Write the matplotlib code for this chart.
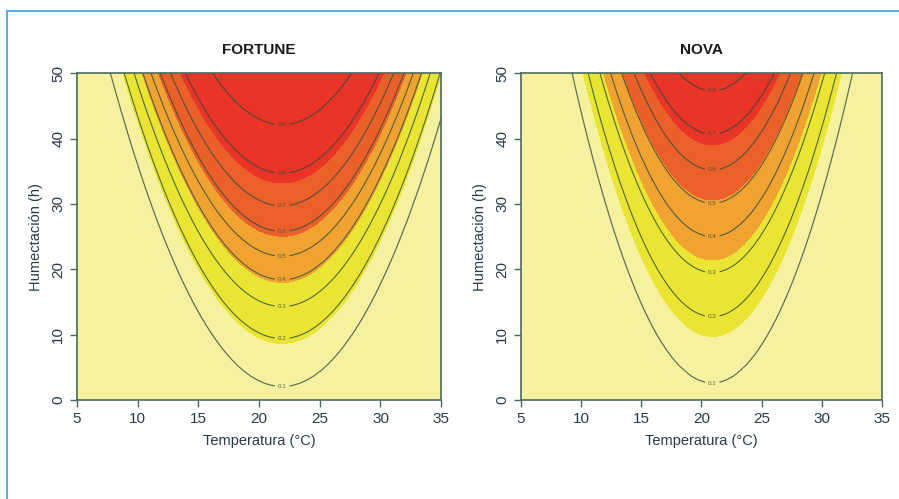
import numpy as np
import matplotlib.pyplot as plt
from matplotlib.patches import Rectangle

plt.rcParams['font.family'] = ['Liberation Sans', 'DejaVu Sans']

# Contour levels and the humidity (h) at the bottom of each curve
levels = [0.1, 0.2, 0.3, 0.4, 0.5, 0.6, 0.7, 0.8, 0.9]
fortune_vertex = [2.1, 9.4, 14.3, 18.4, 22.0, 25.8, 29.7, 34.7, 42.1]
nova_vertex = [2.65, 12.75, 19.5, 25.0, 30.1, 35.2, 40.7, 47.3, 55.0]

# optimum temperature and curvature of the parabolas
fortune_topt, fortune_curv = 21.9, 0.24
nova_topt, nova_curv = 20.9, 0.35

# boundaries of the filled colour bands
fortune_fill = [0.19, 0.39, 0.58, 0.77]
nova_fill = [0.17, 0.335, 0.51, 0.67]

band_colors = ['#F6F19E', '#E9E532', '#F1A332', '#EB6029', '#E93427']


def make_field(vertex, topt, curv):
    t = np.linspace(5, 35, 601)
    h = np.linspace(0, 50, 601)
    tt, hh = np.meshgrid(t, h)
    u = hh - curv * (tt - topt) ** 2
    # anchor the field outside the read levels
    xs = [-500.0] + list(vertex) + [vertex[-1] + 15]
    ys = [0.0] + levels[:len(vertex)] + [1.0]
    return tt, hh, np.interp(u, xs, ys)


def draw_panel(ax, title, vertex, topt, curv, fill, show_levels):
    tt, hh, zz = make_field(vertex, topt, curv)
    ax.contourf(tt, hh, zz, levels=[-1] + fill + [2], colors=band_colors)
    cs = ax.contour(tt, hh, zz, levels=show_levels, colors='#2f4a3c',
                    linewidths=0.8, alpha=0.8)
    ax.clabel(cs, fmt='%.1f', fontsize=4.5, inline=True, inline_spacing=3,
              manual=[(topt, v) for v in vertex[:len(show_levels)]])
    ax.set_xlim(5, 35)
    ax.set_ylim(0, 50)
    ax.set_xticks(range(5, 36, 5))
    ax.set_yticks(range(0, 51, 10))
    ax.set_yticklabels(range(0, 51, 10), rotation=90, va='center')
    ax.tick_params(colors='#4a6a5a', labelcolor='#2a3a4c', labelsize=11,
                   direction='out', length=5, width=1)
    for s in ax.spines.values():
        s.set_color('#4a6a5a')
        s.set_linewidth(1.2)
    ax.set_title(title, fontsize=11, fontweight='bold', color='#1a1a1a', pad=14)
    ax.set_xlabel('Temperatura (°C)', fontsize=10.5, color='#2a3a4c', labelpad=6)
    ax.set_ylabel('Humectación (h)', fontsize=10.5, color='#2a3a4c', labelpad=6)


fig = plt.figure(figsize=(8.99, 4.99), dpi=100)
ax1 = fig.add_axes([0.0857, 0.1984, 0.405, 0.655])
ax2 = fig.add_axes([0.5795, 0.1984, 0.4016, 0.655])

draw_panel(ax1, 'FORTUNE', fortune_vertex, fortune_topt, fortune_curv,
           fortune_fill, levels)
draw_panel(ax2, 'NOVA', nova_vertex, nova_topt, nova_curv, nova_fill,
           levels[:8])

# light blue frame around the figure
fig.patches.append(Rectangle((7 / 899, -0.1), 1.2, 1.1 - 11 / 499,
                             transform=fig.transFigure, fill=False,
                             edgecolor='#5aaee0', linewidth=1.5))

fig.savefig('out.png', dpi=100)
